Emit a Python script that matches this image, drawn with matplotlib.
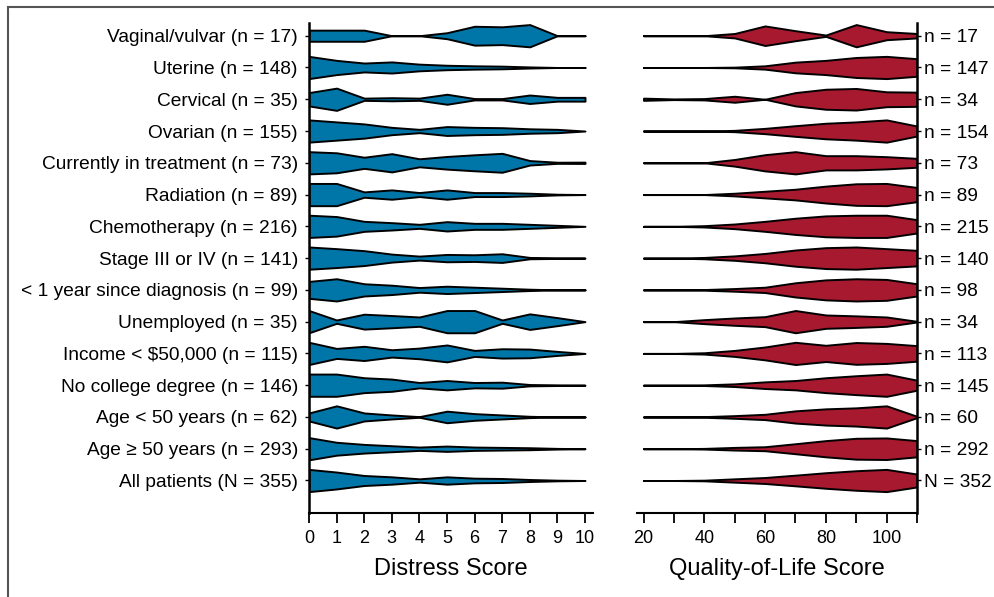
import numpy as np
import matplotlib.pyplot as plt
from matplotlib.patches import Rectangle

plt.rcParams['font.family'] = ['Liberation Sans', 'DejaVu Sans']

# groups, top to bottom
groups = ['Vaginal/vulvar (n = 17)', 'Uterine (n = 148)', 'Cervical (n = 35)',
          'Ovarian (n = 155)', 'Currently in treatment (n = 73)',
          'Radiation (n = 89)', 'Chemotherapy (n = 216)',
          'Stage III or IV (n = 141)', '< 1 year since diagnosis (n = 99)',
          'Unemployed (n = 35)', 'Income < $50,000 (n = 115)',
          'No college degree (n = 146)', 'Age < 50 years (n = 62)',
          'Age \u2265 50 years (n = 293)', 'All patients (N = 355)']
qol_n = ['n = 17', 'n = 147', 'n = 34', 'n = 154', 'n = 73', 'n = 89',
         'n = 215', 'n = 140', 'n = 98', 'n = 34', 'n = 113', 'n = 145',
         'n = 60', 'n = 292', 'N = 352']

distress_x = [0, 1, 2, 3, 4, 5, 6, 7, 8, 9, 10]
qol_x = [20, 30, 40, 50, 60, 70, 80, 90, 100, 110]

# relative density (1 = widest point of the group), distress score 0..10
d_vaginal = [0.5, 0.5, 0.5, 0, 0, 0.27, 0.85, 0.8, 1.0, 0, 0]
d_uterine = [1.0, 0.64, 0.4, 0.5, 0.3, 0.2, 0.15, 0.12, 0.05, 0, 0]
d_cervical = [0.6, 1.0, 0.1, 0.14, 0.1, 0.45, 0.06, 0.06, 0.38, 0.17, 0.17]
d_ovarian = [1.0, 0.82, 0.64, 0.33, 0.15, 0.4, 0.33, 0.3, 0.2, 0.15, 0]
d_treatment = [1.0, 0.9, 0.5, 0.82, 0.36, 0.57, 0.72, 0.85, 0.2, 0.05, 0.06]
d_radiation = [1.0, 1.0, 0.24, 0.42, 0.18, 0.42, 0.18, 0.18, 0.12, 0.03, 0]
d_chemo = [1.0, 0.88, 0.45, 0.33, 0.18, 0.42, 0.27, 0.27, 0.18, 0.09, 0]
d_stage = [1.0, 0.85, 0.67, 0.36, 0.18, 0.33, 0.3, 0.39, 0.06, 0.03, 0]
d_recent = [0.76, 1.0, 0.55, 0.42, 0.21, 0.33, 0.24, 0.15, 0.06, 0, 0]
d_unemployed = [1.0, 0.15, 0.67, 0.55, 0.42, 1.0, 1.0, 0.15, 0.7, 0.36, 0]
d_income = [1.0, 0.45, 0.64, 0.33, 0.48, 0.76, 0.27, 0.42, 0.39, 0.18, 0]
d_college = [1.0, 1.0, 0.67, 0.55, 0.24, 0.42, 0.24, 0.27, 0.06, 0.03, 0]
d_under50 = [0.36, 1.0, 0.36, 0.18, 0.03, 0.52, 0.3, 0.18, 0.06, 0, 0]
d_over50 = [1.0, 0.58, 0.39, 0.27, 0.15, 0.24, 0.15, 0.12, 0.09, 0.03, 0]
d_all = [1.0, 0.76, 0.45, 0.33, 0.15, 0.33, 0.21, 0.18, 0.09, 0.03, 0]

# relative density, quality-of-life score 20..110
q_vaginal = [0, 0, 0, 0.2, 0.88, 0.45, 0.06, 1.0, 0.36, 0.2]
q_uterine = [0, 0, 0, 0.03, 0.15, 0.48, 0.64, 0.9, 1.0, 0.79]
q_cervical = [0.1, 0.03, 0.06, 0.27, 0, 0.6, 0.9, 0.97, 0.67, 0.64]
q_ovarian = [0, 0, 0, 0.06, 0.24, 0.48, 0.7, 0.82, 1.0, 0.45]
q_treatment = [0, 0, 0, 0.3, 0.73, 1.0, 0.64, 0.64, 0.55, 0.4]
q_radiation = [0, 0, 0, 0.12, 0.3, 0.48, 0.76, 0.97, 1.0, 0.64]
q_chemo = [0, 0, 0.06, 0.21, 0.45, 0.73, 0.94, 1.0, 1.0, 0.6]
q_stage = [0, 0, 0.06, 0.2, 0.42, 0.73, 0.94, 1.0, 0.85, 0.7]
q_recent = [0, 0, 0.03, 0.12, 0.24, 0.64, 0.9, 1.0, 0.94, 0.55]
q_unemployed = [0, 0, 0.18, 0.33, 0.45, 1.0, 0.6, 0.52, 0.42, 0.03]
q_income = [0, 0, 0.06, 0.27, 0.58, 1.0, 0.73, 0.98, 0.9, 0.7]
q_college = [0, 0, 0.03, 0.12, 0.3, 0.42, 0.67, 0.85, 1.0, 0.45]
q_under50 = [0, 0, 0.03, 0.12, 0.24, 0.55, 0.73, 0.82, 1.0, 0.06]
q_over50 = [0, 0, 0.03, 0.12, 0.18, 0.45, 0.73, 0.94, 0.97, 0.73]
q_all = [0, 0, 0.03, 0.15, 0.27, 0.48, 0.7, 0.88, 1.0, 0.58]

distress_rows = [d_vaginal, d_uterine, d_cervical, d_ovarian, d_treatment,
                 d_radiation, d_chemo, d_stage, d_recent, d_unemployed,
                 d_income, d_college, d_under50, d_over50, d_all]
qol_rows = [q_vaginal, q_uterine, q_cervical, q_ovarian, q_treatment,
            q_radiation, q_chemo, q_stage, q_recent, q_unemployed,
            q_income, q_college, q_under50, q_over50, q_all]

blue = '#0076a8'
red = '#a6192e'
half = 0.35  # max half-width of a shape, in row units

fig = plt.figure(figsize=(9.95, 5.97), dpi=100)
ax1 = fig.add_axes([309 / 995, 84 / 597, 284 / 995, 490 / 597])
ax2 = fig.add_axes([637 / 995, 84 / 597, 280 / 995, 490 / 597])

ypos = np.arange(len(groups), 0, -1)

for y, w in zip(ypos, distress_rows):
    w = np.array(w) * half
    ax1.fill_between(distress_x, y - w, y + w, facecolor=blue,
                     edgecolor='black', linewidth=1.4)
for y, w in zip(ypos, qol_rows):
    w = np.array(w) * half
    ax2.fill_between(qol_x, y - w, y + w, facecolor=red,
                     edgecolor='black', linewidth=1.4)

for ax in (ax1, ax2):
    ax.set_ylim(-0.023, 15.40)
    ax.spines['top'].set_visible(False)
    ax.spines['bottom'].set_linewidth(1.5)
    ax.tick_params(axis='x', length=7, width=1.3, labelsize=13, pad=5)
    ax.tick_params(axis='y', length=3, width=1.0, labelsize=13.8)

# left panel
ax1.set_xlim(0, 10.29)
ax1.spines['right'].set_visible(False)
ax1.spines['left'].set_linewidth(1.8)
ax1.set_xticks(distress_x)
ax1.set_yticks(ypos)
ax1.set_yticklabels(groups)
ax1.tick_params(axis='y', pad=5)
ax1.set_xlabel('Distress Score', fontsize=17, labelpad=8)

# right panel
ax2.set_xlim(17.86, 110)
ax2.spines['left'].set_visible(False)
ax2.spines['right'].set_linewidth(1.8)
ax2.set_xticks([20, 40, 60, 80, 100])
ax2.set_xticks([30, 50, 70, 90, 110], minor=True)
ax2.tick_params(axis='x', which='minor', length=7, width=1.3)
ax2.yaxis.tick_right()
ax2.set_yticks(ypos)
ax2.set_yticklabels(qol_n)
ax2.tick_params(axis='y', pad=2)
ax2.set_xlabel('Quality-of-Life Score', fontsize=17, labelpad=8)

# outer frame
fig.patches.append(Rectangle((8 / 995, -0.1), 1.2, 590 / 597 + 0.1,
                             transform=fig.transFigure, fill=False,
                             edgecolor='#555555', linewidth=1.5))

fig.savefig('out.png', dpi=100)
